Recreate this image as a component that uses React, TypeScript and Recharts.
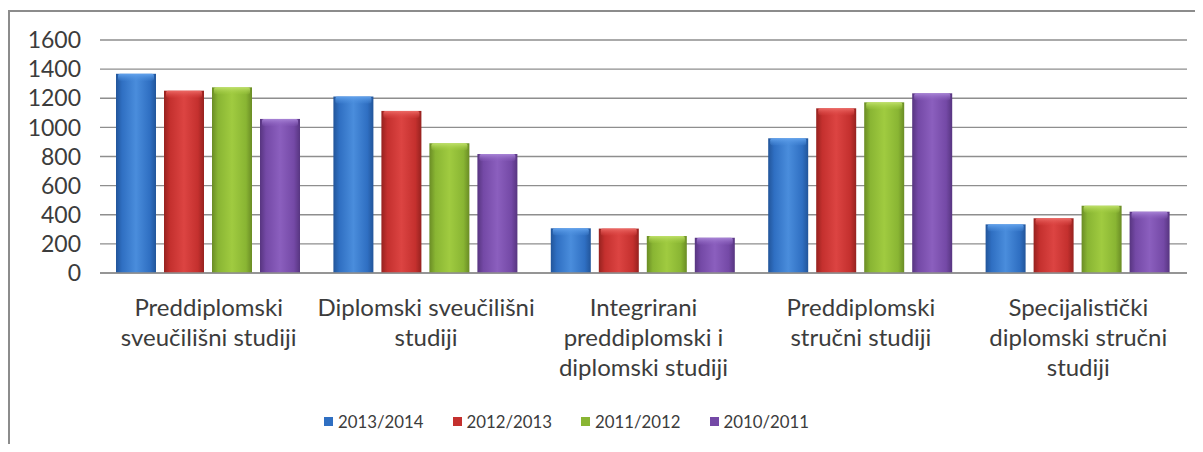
import React from "react";
import { BarChart, Bar, XAxis, YAxis, CartesianGrid, Legend } from "recharts";

const categories = [
  "Preddiplomski\nsveučilišni studiji",
  "Diplomski sveučilišni\nstudiji",
  "Integrirani\npreddiplomski i\ndiplomski studiji",
  "Preddiplomski\nstručni studiji",
  "Specijalistički\ndiplomski stručni\nstudiji",
];
const s2013_2014 = [1368, 1212, 307, 925, 334];
const s2012_2013 = [1252, 1113, 305, 1131, 376];
const s2011_2012 = [1275, 891, 254, 1172, 462];
const s2010_2011 = [1058, 817, 242, 1234, 421];
const yTicks = [0, 200, 400, 600, 800, 1000, 1200, 1400, 1600];

const series = [
  { key: "a", name: "2013/2014", values: s2013_2014, base: "#2f6fc2", light: "#4a8ddc", dark: "#22559a", cap: "#62a2ec" },
  { key: "b", name: "2012/2013", values: s2012_2013, base: "#c4302e", light: "#dc4442", dark: "#96221f", cap: "#ec6a66" },
  { key: "c", name: "2011/2012", values: s2011_2012, base: "#89b533", light: "#a0cb40", dark: "#6a8c25", cap: "#bfe06a" },
  { key: "d", name: "2010/2011", values: s2010_2011, base: "#7449a6", light: "#8b5fbe", dark: "#573580", cap: "#a884d6" },
];

const data = categories.map((c, i) => {
  const row: any = { cat: c };
  series.forEach((s) => (row[s.key] = s.values[i]));
  return row;
});

const FONT = "Lato, 'Open Sans', sans-serif";
const TEXT = "#3c3c3c";

const makeShape = (idx: number) => (props: any) => {
  const { x, y, width, height } = props;
  if (height <= 0) return null;
  const cap = Math.min(7, height);
  return (
    <g>
      <rect x={x} y={y} width={width} height={height} fill={`url(#grad${idx})`} />
      <rect x={x + 2} y={y} width={width - 4} height={cap} fill={`url(#cap${idx})`} rx={2} />
    </g>
  );
};

const CatTick = (props: any) => {
  const { x, y, payload } = props;
  const lines = String(payload.value).split("\n");
  return (
    <text x={x} y={y} textAnchor="middle" fill={TEXT} fontFamily={FONT} fontSize={24}>
      {lines.map((l, i) => (
        <tspan key={i} x={x} y={y + 35 + i * 30}>
          {l}
        </tspan>
      ))}
    </text>
  );
};

const LegendContent = () => (
  <div style={{ display: "flex", justifyContent: "flex-start", paddingLeft: 316, fontFamily: FONT, fontSize: 16.8, color: TEXT }}>
    {series.map((s) => (
      <div key={s.key} style={{ display: "flex", alignItems: "center", width: 128.5 }}>
        <span style={{ display: "inline-block", width: 9, height: 9, background: s.base, marginRight: 5 }} />
        <span>{s.name}</span>
      </div>
    ))}
  </div>
);

export default function App() {
  return (
    <div style={{ position: "relative", width: 1195, height: 436 }}>
      <div
        style={{
          position: "absolute",
          left: 0,
          top: 2,
          width: 1193,
          height: 432,
          borderTop: "2px solid #8c8c8c",
          borderLeft: "2px solid #8c8c8c",
        }}
      />
      <BarChart
        width={1195}
        height={436}
        data={data}
        margin={{ top: 32, right: 16, bottom: 0, left: 0 }}
        barCategoryGap={16}
        barGap={8}
      >
        <defs>
          {series.map((s, i) => (
            <linearGradient key={"g" + i} id={`grad${i}`} x1="0" y1="0" x2="1" y2="0">
              <stop offset="0%" stopColor={s.dark} />
              <stop offset="15%" stopColor={s.base} />
              <stop offset="50%" stopColor={s.light} />
              <stop offset="85%" stopColor={s.base} />
              <stop offset="100%" stopColor={s.dark} />
            </linearGradient>
          ))}
          {series.map((s, i) => (
            <linearGradient key={"c" + i} id={`cap${i}`} x1="0" y1="0" x2="0" y2="1">
              <stop offset="0%" stopColor={s.cap} />
              <stop offset="100%" stopColor={s.light} stopOpacity={0.2} />
            </linearGradient>
          ))}
        </defs>
        <CartesianGrid vertical={false} stroke="#8e8e8e" strokeWidth={1.3} />
        <XAxis
          dataKey="cat"
          tick={<CatTick />}
          tickLine={false}
          axisLine={{ stroke: "#8e8e8e", strokeWidth: 1.3 }}
          interval={0}
          height={150}
        />
        <YAxis
          width={92}
          domain={[0, 1600]}
          ticks={yTicks}
          interval={0}
          tickLine={false}
          axisLine={false}
          tickMargin={13}
          tick={{ fill: TEXT, fontFamily: FONT, fontSize: 23 }}
        />
        <Legend verticalAlign="bottom" content={<LegendContent />} wrapperStyle={{ left: 0, bottom: 12 }} />
        {series.map((s, i) => (
          <Bar key={s.key} dataKey={s.key} name={s.name} isAnimationActive={false} shape={makeShape(i)} />
        ))}
      </BarChart>
    </div>
  );
}
